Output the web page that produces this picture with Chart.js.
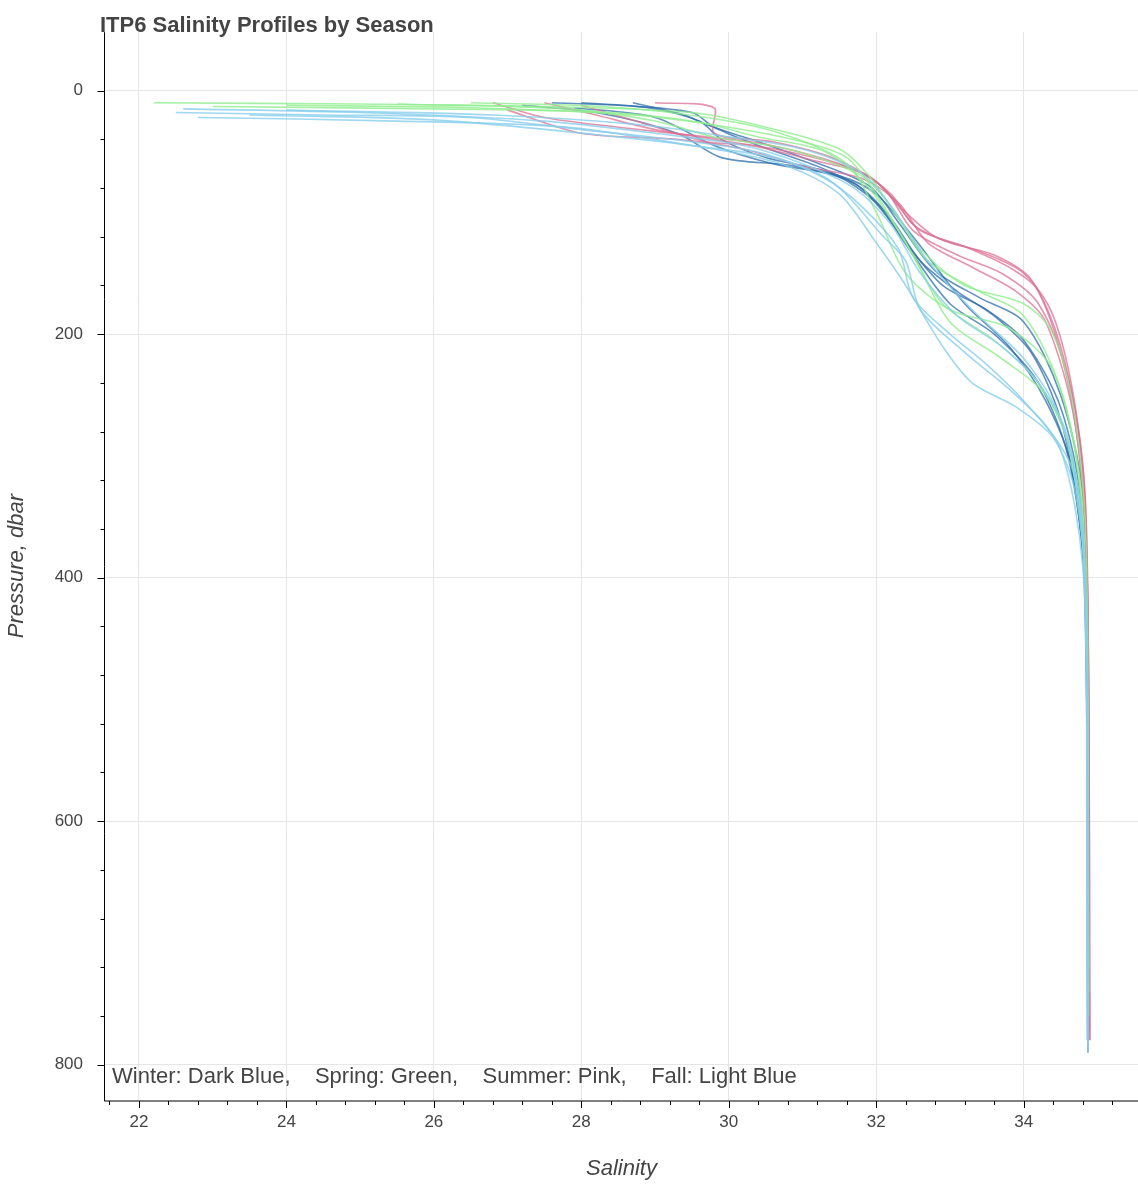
<!DOCTYPE html>
<html><head><meta charset="utf-8">
<script src="https://cdn.jsdelivr.net/npm/chart.js@4/dist/chart.umd.min.js"></script>
<style>html,body{margin:0;background:#fff}#wrap{width:1138px;height:1186px}</style>
</head><body><div id="wrap"><canvas id="c"></canvas></div>
<script>
// Hand-read profiles: [salinity, pressure] pairs per season
const winterProfiles = [
  [[27.6,10],[28.5,12],[29.5,18],[29.8,30],[30.4,45],[31.2,62],[31.8,80],[32.2,105],[32.6,140],[33.1,165],[33.6,185],[34.1,215],[34.5,270],[34.75,350],[34.85,430],[34.87,780]],
  [[28.0,10],[28.9,14],[29.6,25],[29.9,40],[30.5,55],[31.4,68],[32.0,92],[32.4,125],[32.9,160],[33.5,180],[34.0,205],[34.5,260],[34.78,340],[34.86,500],[34.88,770]],
  [[27.2,12],[28.2,18],[29.3,35],[29.9,55],[30.9,62],[31.7,76],[32.1,100],[32.5,135],[33.0,175],[33.6,200],[34.2,240],[34.6,300],[34.82,400],[34.87,790]],
  [[28.7,10],[29.4,20],[29.7,28],[30.3,40],[31.0,55],[31.9,78],[32.3,108],[32.8,148],[33.4,170],[34.0,190],[34.5,250],[34.8,330],[34.86,450],[34.88,760]],
  [[27.9,14],[29.0,22],[29.8,45],[30.6,60],[31.5,70],[32.0,85],[32.5,120],[33.2,175],[33.8,210],[34.3,255],[34.65,310],[34.84,420],[34.87,780]]
];
const springProfiles = [
  [[22.2,10],[25.0,11],[27.5,13],[29.5,18],[30.5,30],[31.5,48],[31.9,70],[32.3,105],[32.7,140],[33.4,165],[34.0,185],[34.5,245],[34.78,330],[34.86,500],[34.88,760]],
  [[24.0,12],[26.5,14],[28.7,20],[30.0,30],[31.0,42],[31.6,55],[32.0,85],[32.4,125],[32.9,175],[33.6,205],[34.2,240],[34.6,290],[34.83,400],[34.87,750]],
  [[25.5,11],[27.8,15],[29.0,25],[29.8,38],[30.8,48],[31.8,70],[32.2,95],[32.6,130],[33.2,160],[34.0,175],[34.4,200],[34.7,270],[34.85,380],[34.88,720]],
  [[23.0,13],[26.0,15],[28.4,18],[29.6,26],[30.4,38],[31.3,50],[31.9,80],[32.5,135],[33.0,190],[33.7,220],[34.3,250],[34.65,300],[34.84,420],[34.87,770]],
  [[26.5,10],[28.3,13],[29.7,22],[30.7,35],[31.6,60],[32.0,100],[32.4,150],[33.0,180],[33.8,195],[34.4,230],[34.75,320],[34.86,480],[34.88,740]]
];
const summerProfiles = [
  [[26.8,10],[27.5,22],[28.5,30],[29.7,38],[30.5,44],[31.5,60],[32.0,75],[32.3,95],[32.6,115],[33.2,128],[33.8,145],[34.2,165],[34.6,240],[34.8,330],[34.87,450],[34.89,780]],
  [[27.5,10],[28.2,20],[29.0,32],[29.8,40],[30.8,50],[31.7,65],[32.2,85],[32.5,110],[33.0,125],[33.6,135],[34.1,155],[34.5,210],[34.78,300],[34.87,430],[34.89,770]],
  [[28.0,12],[28.8,26],[29.7,42],[30.3,45],[31.2,58],[31.9,70],[32.4,100],[32.8,120],[33.4,132],[34.0,150],[34.4,185],[34.7,260],[34.85,360],[34.89,760]],
  [[29.0,10],[29.8,14],[29.8,35],[30.6,42],[31.4,55],[32.1,80],[32.5,115],[33.1,135],[33.7,150],[34.2,175],[34.6,235],[34.82,320],[34.88,480],[34.9,780]],
  [[27.0,16],[28.0,35],[29.3,40],[30.2,48],[31.0,62],[31.8,72],[32.3,92],[32.7,125],[33.3,145],[33.9,165],[34.3,190],[34.7,275],[34.86,400],[34.89,750]]
];
const fallProfiles = [
  [[22.5,18],[24.5,20],[26.5,22],[28.0,32],[29.5,42],[30.5,52],[31.3,72],[31.8,95],[32.3,130],[32.5,170],[33.0,200],[33.5,225],[34.0,255],[34.5,295],[34.8,390],[34.86,550],[34.87,790]],
  [[22.6,15],[25.0,18],[27.5,25],[29.0,35],[30.2,45],[31.0,60],[31.7,80],[32.2,110],[32.6,150],[33.1,185],[33.7,210],[34.2,240],[34.6,285],[34.82,380],[34.87,780]],
  [[23.5,20],[26.0,24],[28.5,38],[29.8,48],[30.8,62],[31.5,85],[32.0,125],[32.4,160],[32.9,210],[33.3,240],[33.9,260],[34.4,285],[34.7,330],[34.84,420],[34.86,780]],
  [[24.0,16],[26.8,20],[28.8,28],[30.0,38],[31.0,48],[31.8,68],[32.2,95],[32.7,140],[33.3,180],[34.0,220],[34.5,270],[34.8,360],[34.87,770]],
  [[22.8,22],[25.5,25],[27.8,30],[29.5,45],[30.6,55],[31.4,75],[32.1,120],[32.4,140],[32.6,180],[33.2,215],[33.8,245],[34.3,275],[34.68,315],[34.85,430],[34.87,785]]
];
const seasonColors = ['rgba(46,110,170,0.75)','rgba(144,238,144,0.8)','rgba(219,112,147,0.75)','rgba(135,206,235,0.8)'];
const legendText = 'Winter: Dark Blue,    Spring: Green,    Summer: Pink,    Fall: Light Blue';

const datasets = [];
[fallProfiles, springProfiles, summerProfiles, winterProfiles].forEach((group, gi) => {
  const col = seasonColors[[3,1,2,0][gi]];
  group.forEach(p => datasets.push({
    data: p.map(d => ({x: d[0], y: d[1]})),
    showLine: true, borderColor: col, borderWidth: 1.6, pointRadius: 0, tension: 0.3
  }));
});

const isMajor = (v, step) => Math.abs(v / step - Math.round(v / step)) < 1e-6;
const gridCol = step => ctx => (ctx.tick && isMajor(ctx.tick.value, step)) ? '#e6e6e6' : 'rgba(0,0,0,0)';
const overlay = {
  id: 'overlay',
  afterDraw(ch) {
    const c = ch.ctx, a = ch.chartArea;
    c.save();
    c.fillStyle = '#444'; c.font = 'bold 22px "Liberation Sans", Arial'; c.textBaseline = 'alphabetic';
    c.fillText('ITP6 Salinity Profiles by Season', 100, 32);
    c.font = '22px "Liberation Sans", Arial';
    c.fillText(legendText, 112, 1083);
    // axis lines and ticks
    c.strokeStyle = '#000'; c.lineWidth = 1;
    c.beginPath(); c.moveTo(a.left - 0.5, a.top); c.lineTo(a.left - 0.5, a.bottom + 1);
    c.lineTo(a.right, a.bottom + 1);
    const xs = ch.scales.x, ys = ch.scales.y;
    xs.ticks.forEach(t => { const px = Math.round(xs.getPixelForValue(t.value)) + 0.5; const L = isMajor(t.value, 2) ? 7 : 4; c.moveTo(px, a.bottom + 1); c.lineTo(px, a.bottom + 1 + L); });
    ys.ticks.forEach(t => { const py = Math.round(ys.getPixelForValue(t.value)) + 0.5; const L = isMajor(t.value, 200) ? 7 : 4; c.moveTo(a.left - 0.5, py); c.lineTo(a.left - 0.5 - L, py); });
    c.stroke();
    c.restore();
  }
};

new Chart(document.getElementById('c'), {
  type: 'scatter',
  data: { datasets },
  plugins: [overlay],
  options: {
    responsive: true, maintainAspectRatio: false, animation: false,
    layout: { padding: { top: 30, right: 0, left: 0, bottom: 0 } },
    plugins: { legend: { display: false }, tooltip: { enabled: false } },
    scales: {
      x: {
        type: 'linear', min: 21.54, max: 35.55,
        afterBuildTicks: ax => { const t = []; for (let v = 21.6; v <= 35.5; v += 0.4) t.push({value: +v.toFixed(1)}); ax.ticks = t; },
        afterFit: ax => { ax.height = 86; },
        border: { display: false },
        grid: { color: gridCol(2), drawTicks: false },
        ticks: { autoSkip: false, maxRotation: 0, padding: 12, color: '#444', font: { size: 17, family: '"Liberation Sans", Arial' }, callback: v => isMajor(v, 2) ? v : '' },
        title: { display: true, text: 'Salinity', color: '#444', font: { size: 22, style: 'italic', family: '"Liberation Sans", Arial' } }
      },
      y: {
        type: 'linear', reverse: true, min: -48, max: 829,
        afterBuildTicks: ax => { const t = []; for (let v = 0; v <= 800; v += 40) t.push({value: v}); ax.ticks = t; },
        afterFit: ax => { ax.width = 105; },
        border: { display: false },
        grid: { color: gridCol(200), drawTicks: false },
        ticks: { autoSkip: false, padding: 22, color: '#444', font: { size: 17, family: '"Liberation Sans", Arial' }, callback: v => isMajor(v, 200) ? v : '' },
        title: { display: true, text: 'Pressure, dbar', color: '#444', font: { size: 22, style: 'italic', family: '"Liberation Sans", Arial' } }
      }
    }
  }
});
</script></body></html>
